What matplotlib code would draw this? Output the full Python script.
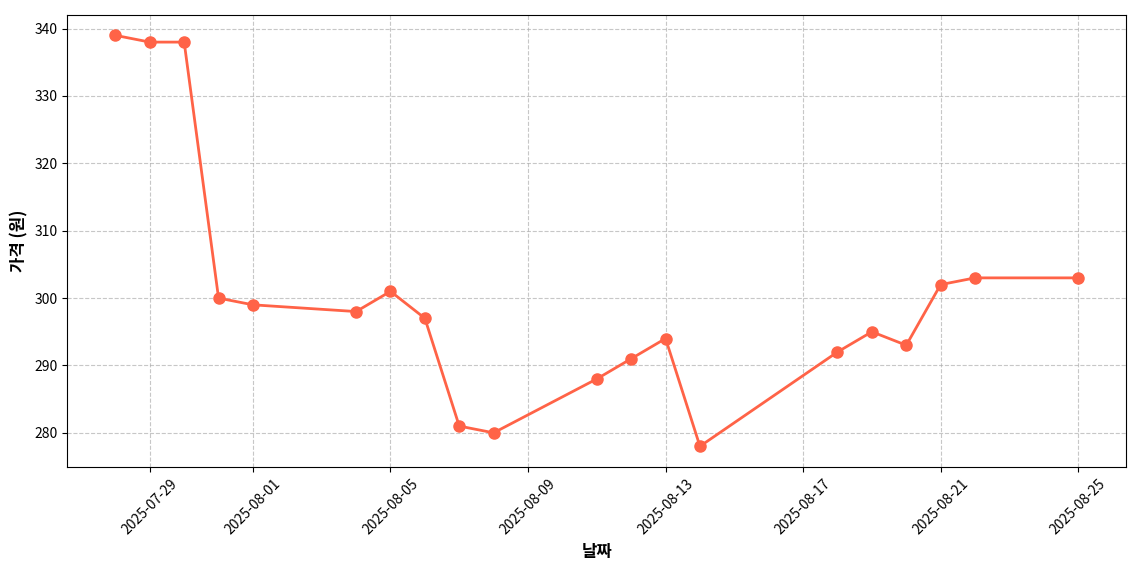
import pandas as pd
import matplotlib
matplotlib.use("Agg")
import matplotlib.pyplot as plt
import matplotlib.dates as mdates

plt.rcParams['font.family'] = ['Noto Sans CJK KR', 'DejaVu Sans']

# 데이터
dates = ["2025-07-28", "2025-07-29", "2025-07-30", "2025-07-31", "2025-08-01",
         "2025-08-04", "2025-08-05", "2025-08-06", "2025-08-07", "2025-08-08",
         "2025-08-11", "2025-08-12", "2025-08-13", "2025-08-14", "2025-08-18",
         "2025-08-19", "2025-08-20", "2025-08-21", "2025-08-22", "2025-08-25"]
prices = [339, 338, 338, 300, 299,
          298, 301, 297, 281, 280,
          288, 291, 294, 278, 292,
          295, 293, 302, 303, 303]

df = pd.DataFrame({"date": pd.to_datetime(dates), "price": prices})

fig, ax = plt.subplots(figsize=(11.4, 5.7), dpi=100)
ax.plot(df["date"], df["price"], color="#FF6347", marker="o",
        markersize=8, linewidth=2)

ax.set_xlabel("날짜", fontsize=12, fontweight="bold")
ax.set_ylabel("가격 (원)", fontsize=12, fontweight="bold")
ax.grid(True, linestyle="--", alpha=0.7)

ax.xaxis.set_major_locator(mdates.DayLocator(bymonthday=[1, 5, 9, 13, 17, 21, 25, 29]))
ax.xaxis.set_major_formatter(mdates.DateFormatter("%Y-%m-%d"))
plt.xticks(rotation=45)

plt.subplots_adjust(left=0.059, right=0.988, top=0.974, bottom=0.181)
plt.savefig("out.png")
